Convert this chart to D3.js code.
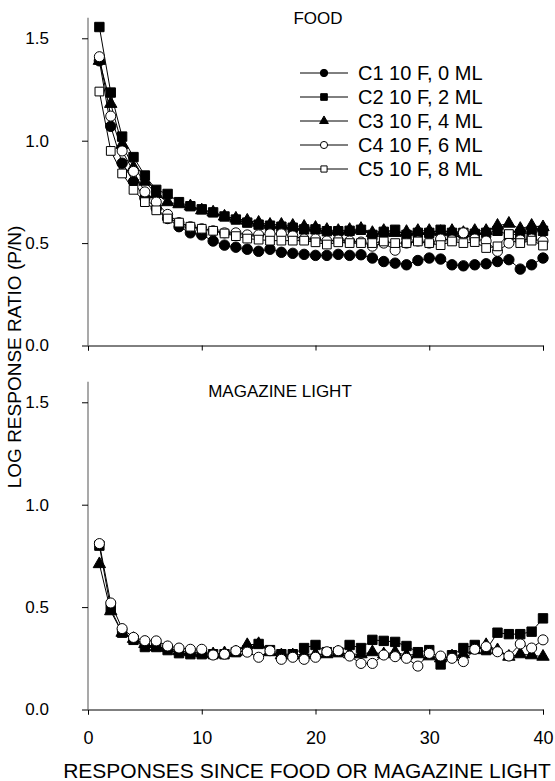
<!DOCTYPE html>
<html>
<head>
<meta charset="utf-8">
<script src="https://cdn.jsdelivr.net/npm/d3@7.9.0/dist/d3.min.js"></script>
<style>
  body { margin: 0; background: #fff; }
  svg { font-family: "Liberation Sans", Arial, Helvetica, sans-serif; }
</style>
</head>
<body>
<svg id="chart" width="555" height="781"></svg>
<script>
// responses since food / magazine light
const responses = d3.range(1, 41);
const yTicks = [0, 0.5, 1.0, 1.5];
const xTicks = [0, 10, 20, 30, 40];

const seriesNames = ["C1 10 F, 0 ML", "C2 10 F, 2 ML", "C3 10 F, 4 ML", "C4 10 F, 6 ML", "C5 10 F, 8 ML"];

// FOOD panel
const foodC1 = [1.39, 1.07, 0.89, 0.80, 0.72, 0.67, 0.62, 0.58, 0.55, 0.54,
  0.51, 0.49, 0.48, 0.47, 0.46, 0.47, 0.455, 0.45, 0.445, 0.44,
  0.44, 0.445, 0.44, 0.443, 0.427, 0.41, 0.402, 0.394, 0.415, 0.427,
  0.422, 0.394, 0.389, 0.394, 0.399, 0.41, 0.419, 0.373, 0.394, 0.427];
const foodC2 = [1.555, 1.235, 1.02, 0.92, 0.83, 0.76, 0.74, 0.70, 0.68, 0.665,
  0.65, 0.63, 0.615, 0.60, 0.59, 0.585, 0.58, 0.575, 0.567, 0.567,
  0.558, 0.558, 0.56, 0.565, 0.54, 0.555, 0.565, 0.54, 0.55, 0.55,
  0.565, 0.55, 0.55, 0.545, 0.55, 0.56, 0.54, 0.545, 0.55, 0.56];
const foodC3 = [1.39, 1.18, 0.98, 0.87, 0.80, 0.74, 0.70, 0.69, 0.68, 0.66,
  0.65, 0.63, 0.62, 0.61, 0.60, 0.59, 0.59, 0.585, 0.58, 0.575,
  0.565, 0.56, 0.565, 0.57, 0.55, 0.56, 0.55, 0.555, 0.56, 0.56,
  0.555, 0.56, 0.55, 0.56, 0.56, 0.585, 0.595, 0.57, 0.585, 0.578];
const foodC4 = [1.41, 1.12, 0.95, 0.85, 0.75, 0.70, 0.64, 0.60, 0.58, 0.57,
  0.56, 0.55, 0.55, 0.54, 0.54, 0.545, 0.545, 0.535, 0.52, 0.52,
  0.51, 0.515, 0.51, 0.505, 0.485, 0.50, 0.465, 0.50, 0.51, 0.50,
  0.52, 0.515, 0.55, 0.52, 0.51, 0.46, 0.50, 0.515, 0.52, 0.51];
const foodC5 = [1.24, 0.95, 0.84, 0.76, 0.70, 0.66, 0.62, 0.60, 0.58, 0.57,
  0.56, 0.547, 0.534, 0.522, 0.517, 0.512, 0.512, 0.512, 0.512, 0.504,
  0.493, 0.504, 0.50, 0.50, 0.50, 0.508, 0.50, 0.50, 0.508, 0.50,
  0.49, 0.508, 0.50, 0.505, 0.476, 0.484, 0.544, 0.50, 0.512, 0.488];

// MAGAZINE LIGHT panel
const lightC2 = [0.80, 0.49, 0.375, 0.34, 0.305, 0.305, 0.29, 0.275, 0.27, 0.27,
  0.27, 0.27, 0.28, 0.29, 0.32, 0.29, 0.27, 0.27, 0.30, 0.315,
  0.28, 0.28, 0.315, 0.30, 0.34, 0.335, 0.33, 0.31, 0.28, 0.29,
  0.22, 0.265, 0.30, 0.315, 0.29, 0.375, 0.368, 0.368, 0.38, 0.445];
const lightC3 = [0.71, 0.48, 0.375, 0.345, 0.32, 0.305, 0.30, 0.285, 0.28, 0.275,
  0.27, 0.275, 0.28, 0.315, 0.32, 0.28, 0.265, 0.265, 0.27, 0.27,
  0.27, 0.28, 0.27, 0.27, 0.28, 0.27, 0.28, 0.265, 0.27, 0.26,
  0.25, 0.26, 0.27, 0.29, 0.315, 0.29, 0.258, 0.27, 0.265, 0.258];
const lightC4 = [0.81, 0.52, 0.395, 0.352, 0.336, 0.335, 0.31, 0.30, 0.294, 0.294,
  0.266, 0.27, 0.287, 0.28, 0.255, 0.287, 0.245, 0.255, 0.245, 0.255,
  0.282, 0.287, 0.261, 0.225, 0.225, 0.266, 0.258, 0.25, 0.212, 0.274,
  0.261, 0.25, 0.234, 0.294, 0.307, 0.282, 0.261, 0.32, 0.30, 0.34];

const markers = [
  { type: d3.symbolCircle, fill: "#000", size: 85 },
  { type: d3.symbolSquare, fill: "#000", size: 88 },
  { type: d3.symbolTriangle, fill: "#000", size: 66 },
  { type: d3.symbolCircle, fill: "#fff", size: 80 },
  { type: d3.symbolSquare, fill: "#fff", size: 76 }
];

const svg = d3.select("#chart");
const left = 88, right = 543;

const x = d3.scaleLinear().domain([0, 40]).range([left, right]);
const yTop = d3.scaleLinear().domain([0, 1.6]).range([345.5, 17.8]);
const yBot = d3.scaleLinear().domain([0, 1.6]).range([709.5, 381.8]);

function drawPanel(y, series, showXLabels) {
  const g = svg.append("g");

  const xa = g.append("g")
    .attr("transform", `translate(0,${y(0)})`)
    .call(d3.axisBottom(x).tickValues(xTicks).tickSize(5).tickPadding(17)
      .tickFormat(showXLabels ? d3.format("d") : ""));
  xa.select(".domain").attr("stroke", "#000");
  xa.selectAll("text").attr("font-size", 18).attr("fill", "#000");

  const ya = g.append("g")
    .attr("transform", `translate(${left},0)`)
    .call(d3.axisLeft(y).tickValues(yTicks).tickSize(6).tickPadding(33)
      .tickFormat(d3.format(".1f")));
  ya.select(".domain").attr("stroke", "#8c8c8c").attr("stroke-width", 1.5)
    .attr("d", `M0,${y(1.6)}V${y(0)}`);
  ya.selectAll("text").attr("font-size", 17).attr("fill", "#000");

  const line = d3.line().x((d, i) => x(responses[i])).y(d => y(d));

  series.forEach(s => {
    const m = markers[s.idx];
    g.append("path")
      .datum(s.values)
      .attr("fill", "none")
      .attr("stroke", "#000")
      .attr("stroke-width", 1)
      .attr("d", line);
    g.selectAll(null)
      .data(s.values)
      .join("path")
      .attr("transform", (d, i) => `translate(${x(responses[i])},${y(d)})`)
      .attr("d", d3.symbol().type(m.type).size(m.size))
      .attr("fill", m.fill)
      .attr("stroke", "#000")
      .attr("stroke-width", 1);
  });
  return g;
}

drawPanel(yTop, [
  { idx: 0, values: foodC1 },
  { idx: 1, values: foodC2 },
  { idx: 2, values: foodC3 },
  { idx: 3, values: foodC4 },
  { idx: 4, values: foodC5 }
], false);

drawPanel(yBot, [
  { idx: 1, values: lightC2 },
  { idx: 2, values: lightC3 },
  { idx: 3, values: lightC4 }
], true);

// panel titles
svg.append("text").attr("x", 318).attr("y", 24).attr("text-anchor", "middle")
  .attr("font-size", 17).text("FOOD");
svg.append("text").attr("x", 280).attr("y", 397).attr("text-anchor", "middle")
  .attr("font-size", 17).text("MAGAZINE LIGHT");

// legend
const legend = svg.append("g").attr("transform", "translate(300,73)");
seriesNames.forEach((name, i) => {
  const row = legend.append("g").attr("transform", `translate(0,${i * 24})`);
  row.append("line").attr("x1", 0).attr("x2", 48).attr("stroke", "#000");
  row.append("path")
    .attr("transform", "translate(24,0)")
    .attr("d", d3.symbol().type(markers[i].type).size(markers[i].size * 0.5))
    .attr("fill", markers[i].fill).attr("stroke", "#000");
  row.append("text").attr("x", 58).attr("dy", "0.36em")
    .attr("font-size", 20).text(name);
});

// axis titles
svg.append("text")
  .attr("transform", "translate(21,357) rotate(-90)")
  .attr("text-anchor", "middle")
  .attr("font-size", 19)
  .text("LOG RESPONSE RATIO (P/N)");

svg.append("text")
  .attr("x", 307).attr("y", 778)
  .attr("text-anchor", "middle")
  .attr("font-size", 21)
  .text("RESPONSES SINCE FOOD OR MAGAZINE LIGHT");
</script>
</body>
</html>
